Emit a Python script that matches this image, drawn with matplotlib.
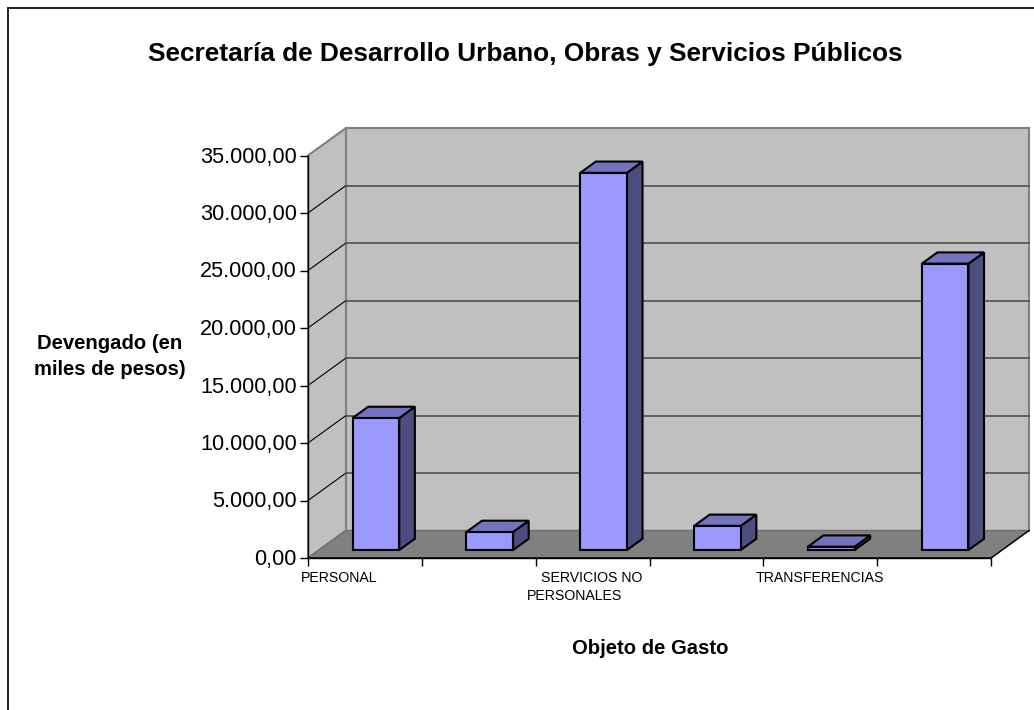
import matplotlib
matplotlib.use("Agg")
import matplotlib.pyplot as plt
from matplotlib.patches import Polygon
from matplotlib.transforms import ScaledTranslation

plt.rcParams['font.family'] = ['Liberation Sans', 'DejaVu Sans']

categories = ['PERSONAL', '', 'SERVICIOS NO\nPERSONALES', '', 'TRANSFERENCIAS', '']
values = [11480, 1570, 32800, 2100, 290, 24900]
y_ticks = [0, 5000, 10000, 15000, 20000, 25000, 30000, 35000]
y_labels = ['0,00', '5.000,00', '10.000,00', '15.000,00', '20.000,00', '25.000,00', '30.000,00', '35.000,00']

W, H = 1034, 710
fig = plt.figure(figsize=(W / 100, H / 100), dpi=100, facecolor='white')

# chart frame (runs past the right and bottom edges of the picture)
fig.add_artist(plt.Rectangle((8 / W, -0.1), 1.1, 1.1 - 7.5 / H, transform=fig.transFigure,
                             fill=False, edgecolor='#202020', lw=1.4))

L, R, B, T = 308, 991, 558, 155.5
ax = fig.add_axes([L / W, 1 - B / H, (R - L) / W, (B - T) / H])
ax.set_xlim(0, 6)
ax.set_ylim(0, 35000)
ax.patch.set_visible(False)
for s in ('top', 'right'):
    ax.spines[s].set_visible(False)
for s in ('left', 'bottom'):
    ax.spines[s].set_linewidth(1.0)
    ax.spines[s].set_zorder(6)

dx = 38 / ((R - L) / 6)
dy = 27.5 / ((B - T) / 35000)

def poly(pts, fc, ec, lw, z):
    ax.add_patch(Polygon(pts, closed=True, facecolor=fc, edgecolor=ec, linewidth=lw,
                         clip_on=False, zorder=z, joinstyle='miter'))

ymax = y_ticks[-1]
# back wall, side wall, floor
poly([(dx, dy), (6 + dx, dy), (6 + dx, ymax + dy), (dx, ymax + dy)], '#c0c0c0', '#808080', 1.5, 1)
poly([(0, 0), (dx, dy), (dx, ymax + dy), (0, ymax)], '#c0c0c0', '#808080', 1.5, 1)
poly([(0, 0), (6, 0), (6 + dx, dy), (dx, dy)], '#808080', '#707070', 1.0, 2)
ax.plot([0, 6, 6 + dx], [0, 0, dy], color='black', lw=1.0, zorder=3, clip_on=False)

# gridlines
for t in y_ticks[1:-1]:
    ax.plot([0, dx], [t, t + dy], color='black', lw=0.8, zorder=2, clip_on=False)
    ax.plot([dx, 6 + dx], [t + dy, t + dy], color='#505050', lw=1.2, zorder=2, clip_on=False)

# bars
f0, f1 = 0.29, 0.70
bw = 0.41
for i, v in enumerate(values):
    x0 = i + 0.5 - bw / 2 + f0 * dx
    x1 = x0 + bw
    y0 = f0 * dy
    ddx = (f1 - f0) * dx
    ddy = (f1 - f0) * dy
    poly([(x1, y0), (x1 + ddx, y0 + ddy), (x1 + ddx, y0 + ddy + v), (x1, y0 + v)], '#4d4d80', 'black', 1.5, 4 + i * 0.01)
    poly([(x0, y0 + v), (x1, y0 + v), (x1 + ddx, y0 + v + ddy), (x0 + ddx, y0 + v + ddy)], '#7373bf', 'black', 1.5, 4 + i * 0.01)
    poly([(x0, y0), (x1, y0), (x1, y0 + v), (x0, y0 + v)], '#9999ff', 'black', 1.5, 4 + i * 0.01)

ax.set_yticks(y_ticks, y_labels, fontsize=15.6)
ax.tick_params(axis='y', length=6, width=1.0, pad=2)
lift = ScaledTranslation(0, 1 / 100, fig.dpi_scale_trans)
for lab in ax.get_yticklabels():
    lab.set_transform(lab.get_transform() + lift)
ax.set_xticks(range(7))
ax.tick_params(axis='x', length=6, width=1.0, labelbottom=False)

cat_x = {0: [0.272], 2: [2.495, 2.345], 4: [4.5]}
for i, c in enumerate(categories):
    if c:
        for j, line in enumerate(c.split('\n')):
            ax.annotate(line, (cat_x[i][j], 0), xytext=(0, -19.5 - 19 * j), xycoords=('data', 'axes fraction'),
                        textcoords='offset pixels', ha='center', va='center', fontsize=10.2)

fig.text(525.5 / W, 1 - 54 / H, 'Secretaría de Desarrollo Urbano, Obras y Servicios Públicos', ha='center', va='center',
         fontsize=18.9, fontweight='bold')
fig.text(110 / W, 1 - 356.5 / H, 'Devengado (en\nmiles de pesos)', ha='center', va='center', fontsize=14.6,
         fontweight='bold', linespacing=1.45)
fig.text(650 / W, 1 - 648 / H, 'Objeto de Gasto', ha='center', va='center', fontsize=14.6, fontweight='bold')

fig.savefig('out.png', dpi=100)
